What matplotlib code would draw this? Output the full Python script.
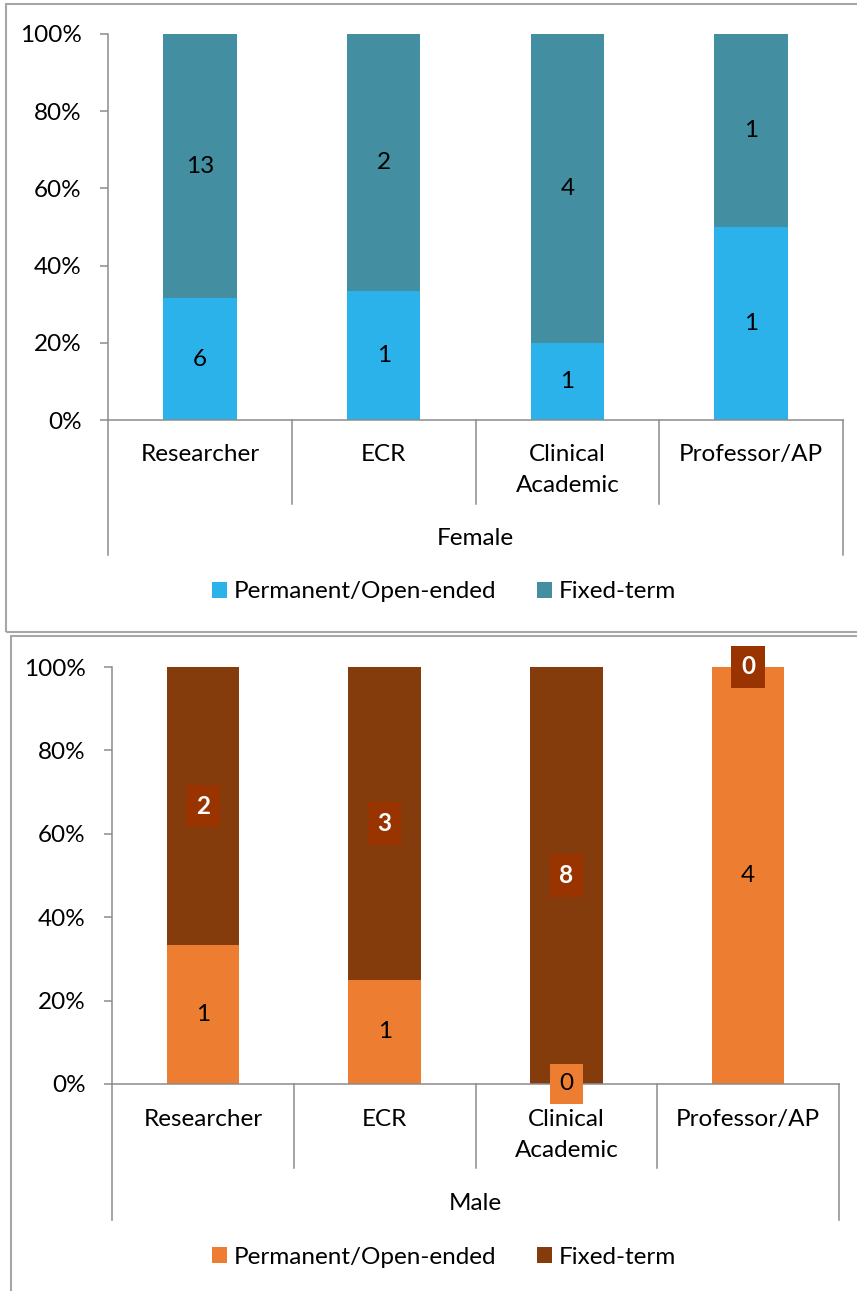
import matplotlib.pyplot as plt
from matplotlib.patches import Rectangle
from matplotlib.transforms import blended_transform_factory
import numpy as np

plt.rcParams['font.family'] = ['Lato', 'DejaVu Sans']

categories = ["Researcher", "ECR", "Clinical\nAcademic", "Professor/AP"]
female_perm = [6, 1, 1, 1]
female_fixed = [13, 2, 4, 1]
male_perm = [1, 1, 0, 4]
male_fixed = [2, 3, 8, 0]

W, H = 857, 1291
fig = plt.figure(figsize=(W / 100, H / 100), dpi=100)

GREY = "#8c8c8c"
FS = 17.5


def fy(py):
    return 1 - py / H


def panel(rect_px, perm, fixed, perm_col, fixed_col, group, divider_px, outer_px,
          label_px, group_px, legend_px, boxed):
    left, top, right, bottom = rect_px
    ax = fig.add_axes([left / W, fy(bottom), (right - left) / W, (bottom - top) / H])
    perm = np.array(perm, float)
    fixed = np.array(fixed, float)
    total = perm + fixed
    p_share = perm / total * 100
    f_share = fixed / total * 100
    x = np.arange(len(categories))
    ax.bar(x, p_share, 0.4, color=perm_col, label="Permanent/Open-ended")
    ax.bar(x, f_share, 0.4, bottom=p_share, color=fixed_col, label="Fixed-term")
    ax.set_xlim(-0.5, len(categories) - 0.5)
    ax.set_ylim(0, 100)
    ax.set_yticks(range(0, 101, 20))
    ax.set_yticklabels([f"{v}%" for v in range(0, 101, 20)])
    ax.tick_params(axis='y', length=6, width=1.1, color=GREY, pad=13, labelsize=FS)
    ax.set_xticks([])
    for s in ["top", "right"]:
        ax.spines[s].set_visible(False)
    for s in ["left", "bottom"]:
        ax.spines[s].set_color(GREY)
        ax.spines[s].set_linewidth(1.1)

    # value labels
    for i in range(len(categories)):
        yp = p_share[i] / 2
        yf = p_share[i] + f_share[i] / 2
        if boxed:
            kw = dict(boxstyle="square,pad=0.4")
            ax.text(x[i], yp, f"{int(perm[i])}", ha="center", va="center", fontsize=FS,
                    color="black",
                    bbox=dict(fc=perm_col, ec="none", **kw) if perm[i] == 0 else None)
            ax.text(x[i], yf, f"{int(fixed[i])}", ha="center", va="center", fontsize=FS,
                    color="white", fontweight="bold",
                    bbox=dict(fc="#993300", ec="none", **kw))
        else:
            ax.text(x[i], yp, f"{int(perm[i])}", ha="center", va="center", fontsize=FS)
            ax.text(x[i], yf, f"{int(fixed[i])}", ha="center", va="center", fontsize=FS)

    # category dividers below the axis
    tr = blended_transform_factory(ax.transData, fig.transFigure)
    for b in np.arange(len(categories) + 1) - 0.5:
        end = outer_px if b in (-0.5, len(categories) - 0.5) else divider_px
        ax.plot([b, b], [fy(bottom), fy(end)], color=GREY, lw=1.1, transform=tr,
                clip_on=False)
    for i, c in enumerate(categories):
        ax.text(x[i], fy(label_px), c, transform=tr, ha="center", va="top",
                fontsize=FS, linespacing=1.6)
    ax.text(len(categories) / 2 - 0.5, fy(group_px), group, transform=tr,
            ha="center", va="center", fontsize=FS)

    ax.legend(loc="center", bbox_to_anchor=(444 / W, fy(legend_px)),
              bbox_transform=fig.transFigure, ncol=2, frameon=False,
              fontsize=FS, handlelength=0.62, handleheight=0.62,
              handletextpad=0.3, columnspacing=1.65)
    return ax


panel((108, 34, 843, 420), female_perm, female_fixed, "#2cb2eb", "#438ea0", "Female",
      504, 555, 444, 538, 592, False)
panel((112, 667, 839, 1084), male_perm, male_fixed, "#ed7d31", "#843c0c", "Male",
      1168, 1220, 1109, 1203, 1257, True)

# chart area borders
fig.patches.append(Rectangle((6 / W, fy(632)), 900 / W, 628 / H, transform=fig.transFigure,
                             fill=False, ec="#a6a6a6", lw=1.5))
fig.patches.append(Rectangle((11 / W, fy(1320)), 900 / W, 684 / H, transform=fig.transFigure,
                             fill=False, ec="#a6a6a6", lw=1.5))

fig.savefig("out.png", dpi=100)
